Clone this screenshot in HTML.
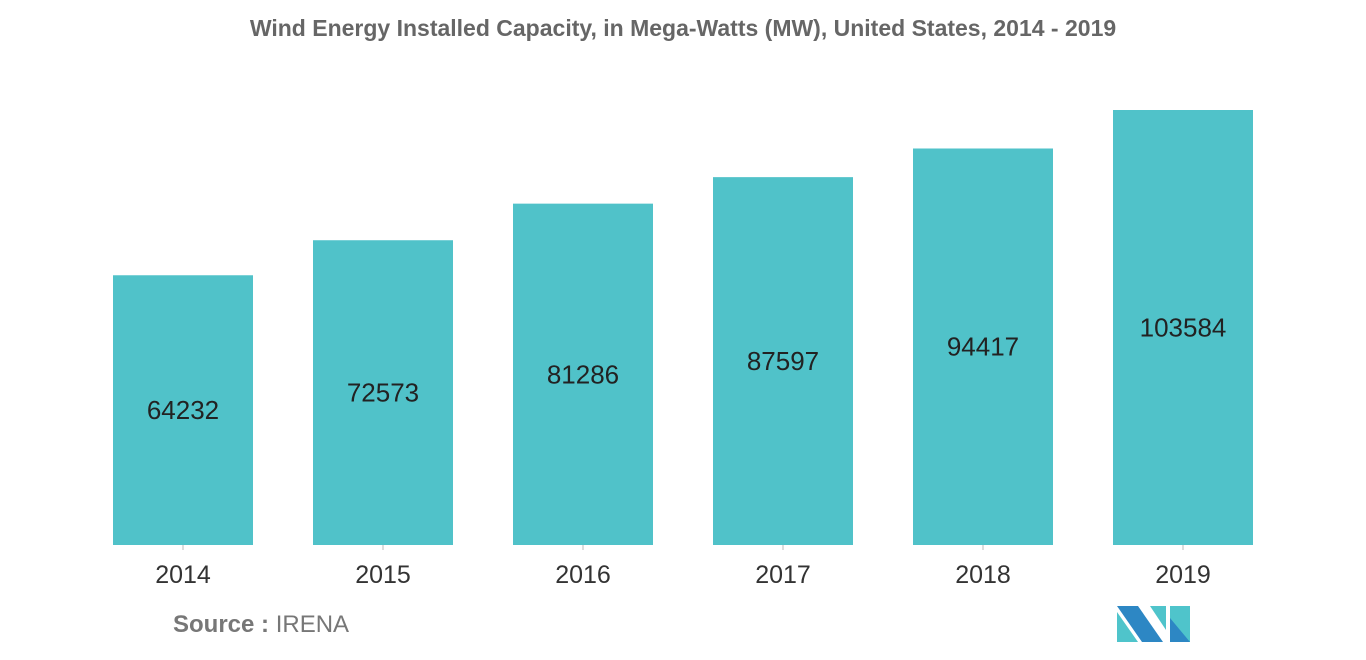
<!DOCTYPE html>
<html><head><meta charset="utf-8"><style>
body{margin:0;background:#fff;width:1366px;height:655px;overflow:hidden;font-family:"Liberation Sans",sans-serif}
</style></head><body>
<svg id="chart" width="1366" height="655" xmlns="http://www.w3.org/2000/svg">
<text x="683" y="36" text-anchor="middle" font-size="23" fill="#666" font-weight="bold" font-family="Liberation Sans, sans-serif">Wind Energy Installed Capacity, in Mega-Watts (MW), United States, 2014 - 2019</text>
<g id="bars"></g>
<text x="173" y="632" font-size="24" fill="#777"><tspan font-weight="bold">Source :</tspan> IRENA</text>
<g>
<polygon points="1117,606 1138,606 1163,642 1142,642" fill="#2d87c4"/>
<polygon points="1117,612 1117,642 1138,642" fill="#4fc4cb"/>
<polygon points="1150,606 1166,606 1166,630" fill="#4fc4cb"/>
<polygon points="1170,606 1190,606 1190,642 1170,642" fill="#4fc4cb"/>
<polygon points="1170,618 1190,642 1170,642" fill="#2d87c4"/>
</g>
</svg>
<script>
const categories=["2014","2015","2016","2017","2018","2019"];
const values=[64232,72573,81286,87597,94417,103584];
const svg=document.getElementById('chart');
const g=document.getElementById('bars');
const NS="http://www.w3.org/2000/svg";
const base=545, scale=435/103584;
function y(v){return base-v*scale;}
function xc(i){return 183+i*200;}
categories.forEach((c,i)=>{
  const v=values[i];
  const r=document.createElementNS(NS,'rect');
  
  
  r.setAttribute('x',xc(i)-70);r.setAttribute('width',140);
  r.setAttribute('y',y(v));r.setAttribute('height',base-y(v));
  r.setAttribute('fill','#50c2c9');g.appendChild(r);
  const t=document.createElementNS(NS,'text');
  
  
  t.setAttribute('x',xc(i));t.setAttribute('y',(y(v)+base)/2+9);
  t.setAttribute('text-anchor','middle');t.setAttribute('font-size','26');t.setAttribute('fill','#222');
  t.textContent=v;g.appendChild(t);
  const tk=document.createElementNS(NS,'line');
  
  
  tk.setAttribute('x1',xc(i));tk.setAttribute('x2',xc(i));tk.setAttribute('y1',base);tk.setAttribute('y2',base+5);
  tk.setAttribute('stroke','#bbb');g.appendChild(tk);
  const l=document.createElementNS(NS,'text');
  
  
  l.setAttribute('x',xc(i));l.setAttribute('y',583);
  l.setAttribute('text-anchor','middle');l.setAttribute('font-size','25');l.setAttribute('fill','#333');
  l.textContent=c;g.appendChild(l);
});
</script>
</body></html>
